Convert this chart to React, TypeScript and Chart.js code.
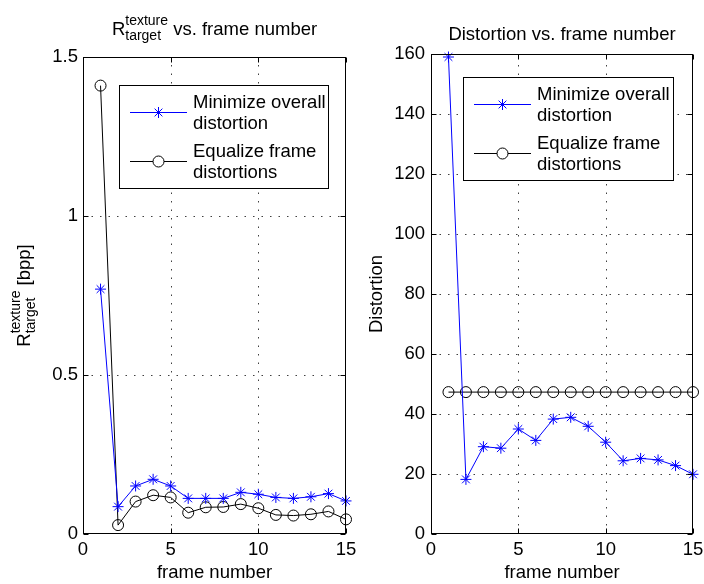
import React, { useEffect, useRef } from 'react';
import { Chart, registerables } from 'chart.js';

Chart.register(...registerables);

// ---------------- data ----------------
const frames = [1, 2, 3, 4, 5, 6, 7, 8, 9, 10, 11, 12, 13, 14, 15];
const rateMinimize = [0.77, 0.086, 0.151, 0.172, 0.151, 0.112, 0.112, 0.112, 0.131, 0.125, 0.115, 0.112, 0.117, 0.127, 0.104];
const rateEqualize = [1.41, 0.028, 0.102, 0.122, 0.115, 0.067, 0.084, 0.085, 0.094, 0.081, 0.06, 0.058, 0.062, 0.071, 0.046];
const distMinimize = [159, 18.2, 29.1, 28.6, 35, 31.2, 38.3, 38.9, 35.9, 30.6, 24.4, 25.2, 24.7, 22.8, 19.9];
const distEqualize = [47.3, 47.3, 47.3, 47.3, 47.3, 47.3, 47.3, 47.3, 47.3, 47.3, 47.3, 47.3, 47.3, 47.3, 47.3];
const frameTicks = [0, 5, 10, 15];
const rateTicks = [0, 0.5, 1, 1.5];
const distTicks = [0, 20, 40, 60, 80, 100, 120, 140, 160];
const seriesLabels = [
  ['Minimize overall', 'distortion'],
  ['Equalize frame', 'distortions'],
];
const xTitle = 'frame number';

const FONT = '"Liberation Sans", Arial, Helvetica, sans-serif';
const SIZE = 18.5;
const SCRIPT = 14;
const BLUE = '#0000ff';
const BLACK = '#000000';

type Seg = { text?: string; sup?: string; sub?: string };

function segWidth(ctx: CanvasRenderingContext2D, s: Seg) {
  if (s.text !== undefined) {
    ctx.font = `${SIZE}px ${FONT}`;
    return ctx.measureText(s.text).width;
  }
  ctx.font = `${SCRIPT}px ${FONT}`;
  return Math.max(ctx.measureText(s.sup || '').width, ctx.measureText(s.sub || '').width);
}

function drawRich(ctx: CanvasRenderingContext2D, segs: Seg[], cx: number, base: number) {
  const total = segs.reduce((a, s) => a + segWidth(ctx, s), 0);
  let x = cx - total / 2;
  ctx.fillStyle = '#000';
  ctx.textAlign = 'left';
  ctx.textBaseline = 'alphabetic';
  for (const s of segs) {
    const w = segWidth(ctx, s);
    if (s.text !== undefined) {
      ctx.font = `${SIZE}px ${FONT}`;
      ctx.fillText(s.text, x, base);
    } else {
      ctx.font = `${SCRIPT}px ${FONT}`;
      if (s.sup) ctx.fillText(s.sup, x, base - 10);
      if (s.sub) ctx.fillText(s.sub, x, base + 4.5);
    }
    x += w;
  }
}

function drawStar(ctx: CanvasRenderingContext2D, x: number, y: number, r: number) {
  ctx.beginPath();
  ctx.moveTo(x - r, y); ctx.lineTo(x + r, y);
  ctx.moveTo(x, y - r); ctx.lineTo(x, y + r);
  const d = r * Math.SQRT1_2;
  ctx.moveTo(x - d, y - d); ctx.lineTo(x + d, y + d);
  ctx.moveTo(x - d, y + d); ctx.lineTo(x + d, y - d);
  ctx.stroke();
}

interface Decor {
  title: Seg[];
  titleBase: number;
  ylabel: Seg[];
  ylabelX: number;
  xTicks: number[];
  yTicks: number[];
  legend: { x: number; y: number; w: number; h: number };
}

function makeDecor(d: Decor) {
  return {
    id: 'decor',
    beforeDatasetsDraw(chart: any) {
      const ctx: CanvasRenderingContext2D = chart.ctx;
      const { left, right, top, bottom } = chart.chartArea;
      const xs = chart.scales.x;
      const ys = chart.scales.y;
      ctx.save();
      ctx.strokeStyle = 'rgba(0,0,0,0.75)';
      ctx.lineWidth = 1;
      ctx.setLineDash([1.5, 7]);
      for (const v of d.xTicks) {
        const px = Math.round(xs.getPixelForValue(v)) + 0.5;
        if (px <= left + 1 || px >= right - 1) continue;
        ctx.beginPath(); ctx.moveTo(px, bottom); ctx.lineTo(px, top); ctx.stroke();
      }
      for (const v of d.yTicks) {
        const py = Math.round(ys.getPixelForValue(v)) + 0.5;
        if (py <= top + 1 || py >= bottom - 1) continue;
        ctx.beginPath(); ctx.moveTo(left, py); ctx.lineTo(right, py); ctx.stroke();
      }
      ctx.restore();
    },
    afterDraw(chart: any) {
      const ctx: CanvasRenderingContext2D = chart.ctx;
      const { left, right, top, bottom } = chart.chartArea;
      const xs = chart.scales.x;
      const ys = chart.scales.y;
      ctx.save();
      // box
      ctx.strokeStyle = '#000';
      ctx.lineWidth = 1;
      ctx.setLineDash([]);
      const L = Math.round(left) + 0.5, R = Math.round(right) - 0.5;
      const T = Math.round(top) + 0.5, B = Math.round(bottom) - 0.5;
      ctx.strokeRect(L, T, R - L, B - T);
      // inward ticks
      const tl = 5;
      ctx.beginPath();
      for (const v of d.xTicks) {
        const px = Math.round(xs.getPixelForValue(v)) + 0.5;
        ctx.moveTo(px, B); ctx.lineTo(px, B - tl);
        ctx.moveTo(px, T); ctx.lineTo(px, T + tl);
      }
      for (const v of d.yTicks) {
        const py = Math.round(ys.getPixelForValue(v)) + 0.5;
        ctx.moveTo(L, py); ctx.lineTo(L + tl, py);
        ctx.moveTo(R, py); ctx.lineTo(R - tl, py);
      }
      ctx.stroke();

      // title
      drawRich(ctx, d.title, (left + right) / 2, d.titleBase);
      // x title
      drawRich(ctx, [{ text: xTitle }], (left + right) / 2, 578);
      // y title rotated
      ctx.save();
      ctx.translate(d.ylabelX, (top + bottom) / 2);
      ctx.rotate(-Math.PI / 2);
      drawRich(ctx, d.ylabel, 0, 0);
      ctx.restore();

      // legend
      const lg = d.legend;
      ctx.fillStyle = '#fff';
      ctx.fillRect(lg.x, lg.y, lg.w, lg.h);
      ctx.strokeStyle = '#000';
      ctx.lineWidth = 1;
      ctx.strokeRect(lg.x + 0.5, lg.y + 0.5, lg.w, lg.h);
      const rows = [
        { color: BLUE, star: true, my: lg.y + 27.5, b1: lg.y + 23, b2: lg.y + 44 },
        { color: BLACK, star: false, my: lg.y + 76.5, b1: lg.y + 72, b2: lg.y + 93 },
      ];
      rows.forEach((r, i) => {
        ctx.strokeStyle = r.color;
        ctx.lineWidth = 1;
        ctx.beginPath();
        ctx.moveTo(lg.x + 11, r.my); ctx.lineTo(lg.x + 68, r.my);
        ctx.stroke();
        const mx = lg.x + 39.5;
        if (r.star) {
          drawStar(ctx, mx, r.my, 5.5);
        } else {
          ctx.fillStyle = '#fff';
          ctx.beginPath(); ctx.arc(mx, r.my, 5.5, 0, Math.PI * 2); ctx.fill(); ctx.stroke();
        }
        ctx.fillStyle = '#000';
        ctx.font = `${SIZE}px ${FONT}`;
        ctx.textAlign = 'left';
        ctx.textBaseline = 'alphabetic';
        ctx.fillText(seriesLabels[i][0], lg.x + 74, r.b1);
        ctx.fillText(seriesLabels[i][1], lg.x + 74, r.b2);
      });
      ctx.restore();
    },
  };
}

function buildConfig(
  minVals: number[], eqVals: number[], yMax: number, yTicks: number[],
  pad: { top: number; right: number }, yWidth: number, tickPad: number, decor: Decor,
): any {
  const pts = (arr: number[]) => frames.map((f, i) => ({ x: f, y: arr[i] }));
  return {
    type: 'line',
    data: {
      datasets: [
        {
          label: seriesLabels[0].join(' '),
          data: pts(minVals),
          borderColor: BLUE,
          backgroundColor: 'rgba(0,0,0,0)',
          borderWidth: 1,
          pointStyle: 'star',
          pointRadius: 5.5,
          pointBorderWidth: 1,
          pointBorderColor: BLUE,
          clip: false,
          tension: 0,
        },
        {
          label: seriesLabels[1].join(' '),
          data: pts(eqVals),
          borderColor: BLACK,
          backgroundColor: 'rgba(0,0,0,0)',
          borderWidth: 1,
          pointStyle: 'circle',
          pointRadius: 5.5,
          pointBorderWidth: 1,
          pointBorderColor: BLACK,
          pointBackgroundColor: 'rgba(0,0,0,0)',
          clip: false,
          tension: 0,
        },
      ],
    },
    options: {
      responsive: false,
      animation: false,
      events: [],
      layout: { padding: { top: pad.top, right: pad.right, bottom: 0, left: 0 } },
      plugins: { legend: { display: false }, tooltip: { enabled: false }, title: { display: false } },
      scales: {
        x: {
          type: 'linear',
          min: 0,
          max: 15,
          grid: { display: false, drawTicks: false },
          border: { display: false },
          ticks: {
            color: '#000',
            font: { family: FONT, size: SIZE },
            padding: 5,
            maxRotation: 0,
            autoSkip: false,
            callback: (v: number) => String(v),
          },
          afterBuildTicks: (axis: any) => { axis.ticks = frameTicks.map((v) => ({ value: v })); },
          afterFit: (s: any) => { s.height = 50; s.paddingLeft = 0; s.paddingRight = 0; },
        },
        y: {
          type: 'linear',
          min: 0,
          max: yMax,
          grid: { display: false, drawTicks: false },
          border: { display: false },
          ticks: {
            color: '#000',
            font: { family: FONT, size: SIZE },
            padding: tickPad,
            autoSkip: false,
            callback: (v: number) => String(v),
          },
          afterBuildTicks: (axis: any) => { axis.ticks = yTicks.map((v) => ({ value: v })); },
          afterFit: (s: any) => { s.width = yWidth; s.paddingTop = 0; s.paddingBottom = 0; },
        },
      },
    },
    plugins: [makeDecor(decor)],
  };
}

function ChartCanvas({ config, left, width }: { config: () => any; left: number; width: number }) {
  const ref = useRef<HTMLCanvasElement | null>(null);
  useEffect(() => {
    if (!ref.current) return;
    const chart = new Chart(ref.current, config());
    return () => chart.destroy();
  }, []);
  return (
    <canvas
      ref={ref}
      width={width}
      height={584}
      style={{ position: 'absolute', left, top: 0, display: 'block', width, height: 584 }}
    />
  );
}

export default function App() {
  const leftConfig = () =>
    buildConfig(rateMinimize, rateEqualize, 1.5, rateTicks, { top: 57, right: 370 - 346 }, 83, 5, {
      title: [{ text: 'R' }, { sup: 'texture', sub: 'target' }, { text: ' vs. frame number' }],
      titleBase: 35,
      ylabel: [{ text: 'R' }, { sup: 'texture', sub: 'target' }, { text: ' [bpp]' }],
      ylabelX: 30,
      xTicks: frameTicks,
      yTicks: rateTicks,
      legend: { x: 119, y: 85, w: 209, h: 103 },
    });
  const rightConfig = () =>
    buildConfig(distMinimize, distEqualize, 160, distTicks, { top: 54, right: 11 }, 79, 6, {
      title: [{ text: 'Distortion vs. frame number' }],
      titleBase: 40,
      ylabel: [{ text: 'Distortion' }],
      ylabelX: 382 - 352,
      xTicks: frameTicks,
      yTicks: distTicks,
      legend: { x: 463 - 352, y: 77, w: 210, h: 103 },
    });
  return (
    <div style={{ position: 'fixed', left: 0, top: 0, width: 704, height: 584, background: '#fff', overflow: 'hidden' }}>
      <ChartCanvas config={leftConfig} left={0} width={370} />
      <ChartCanvas config={rightConfig} left={352} width={352} />
    </div>
  );
}
